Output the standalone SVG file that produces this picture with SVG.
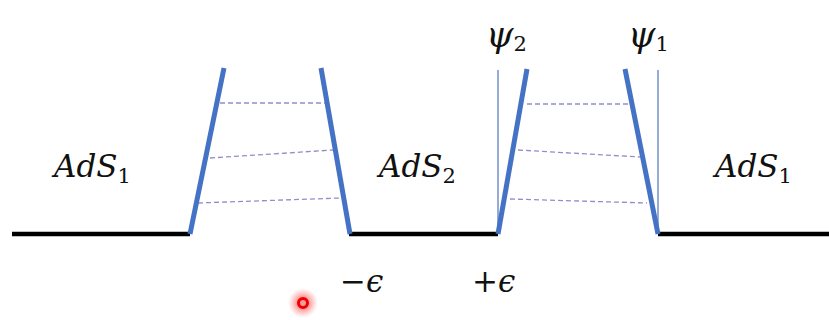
<svg xmlns="http://www.w3.org/2000/svg" width="829" height="320" viewBox="0 0 829 320">
<defs>
<style>
.ground{stroke:#000;stroke-width:4.5;fill:none}
.wall{stroke:#4472C4;stroke-width:5;fill:none;stroke-linecap:butt}
.thin{stroke:#3F68B5;stroke-width:1.1;fill:none}
.dash{stroke:#8F8FCB;stroke-width:1.3;stroke-dasharray:5 3;fill:none}
.lbl{font-family:"DejaVu Serif","Liberation Serif",serif;font-style:italic;font-size:31px;fill:#111}
.psi{font-family:"DejaVu Serif","Liberation Serif",serif;font-style:italic;font-size:35px;fill:#111}
.sub{font-style:normal;font-size:21px}
.sym{font-family:"DejaVu Serif","Liberation Serif",serif;font-size:31px;fill:#111}
</style>
<radialGradient id="glow">
<stop offset="0" stop-color="#ff0000" stop-opacity="0.75"/>
<stop offset="0.55" stop-color="#ff3030" stop-opacity="0.35"/>
<stop offset="1" stop-color="#ff6060" stop-opacity="0"/>
</radialGradient>
</defs>
<rect width="829" height="320" fill="#fff"/>
<g id="connectors">
<line class="ground" x1="12" y1="234" x2="190" y2="234"/>
<line class="ground" x1="349" y1="234" x2="498" y2="234"/>
<line class="ground" x1="658" y1="234" x2="829" y2="234"/>
<line class="thin" x1="498" y1="70" x2="498" y2="234"/>
<line class="thin" x1="658" y1="70" x2="658" y2="234"/>
<line class="dash" x1="220" y1="103" x2="325" y2="103"/>
<line class="dash" x1="210" y1="158" x2="333" y2="150"/>
<line class="dash" x1="198" y1="203" x2="340" y2="198"/>
<line class="dash" x1="527" y1="104" x2="628" y2="104"/>
<line class="dash" x1="518" y1="150" x2="640" y2="157"/>
<line class="dash" x1="510" y1="199" x2="647" y2="203"/>
<line class="wall" x1="190" y1="234" x2="224" y2="68"/>
<line class="wall" x1="321" y1="68" x2="350" y2="234"/>
<line class="wall" x1="498" y1="234" x2="527" y2="69"/>
<line class="wall" x1="625" y1="69" x2="658" y2="234"/>
</g>
<g id="ads1-left"><text class="lbl" x="54" y="177">AdS<tspan class="sub" dy="6">1</tspan></text></g>
<g id="ads2"><text class="lbl" x="379" y="177">AdS<tspan class="sub" dy="6">2</tspan></text></g>
<g id="ads1-right"><text class="lbl" x="715" y="177">AdS<tspan class="sub" dy="6">1</tspan></text></g>
<g id="psi2"><text class="psi" x="486" y="47">ψ<tspan class="sub" dy="4">2</tspan></text></g>
<g id="psi1"><text class="psi" x="628" y="47">ψ<tspan class="sub" dy="4">1</tspan></text></g>
<g id="minus-eps"><text class="sym" x="340" y="292">−<tspan font-style="italic">ϵ</tspan></text></g>
<g id="plus-eps"><text class="sym" x="472" y="292">+<tspan font-style="italic">ϵ</tspan></text></g>
<g id="pointer">
<circle cx="303" cy="303" r="15" fill="url(#glow)"/>
<circle cx="303" cy="303" r="4.5" fill="#ff9a9a" stroke="#ee0000" stroke-width="3"/>
</g>
</svg>
